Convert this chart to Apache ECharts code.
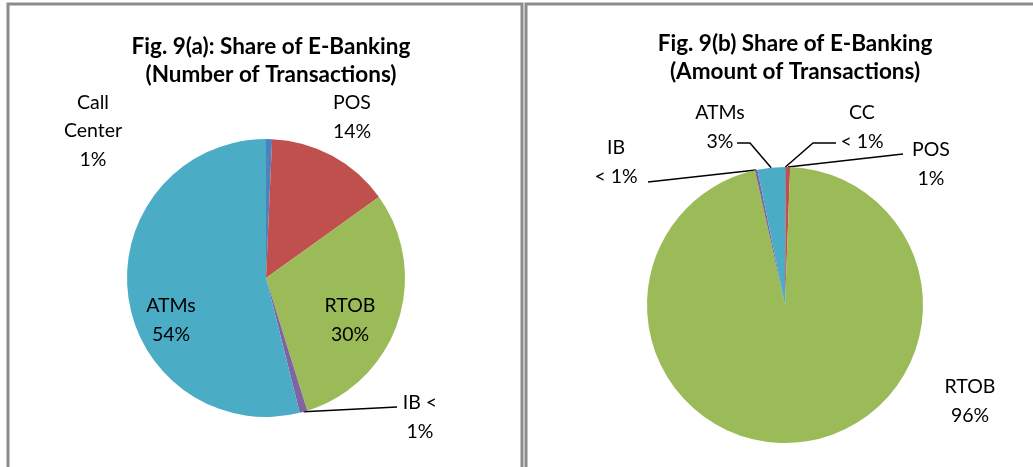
<!DOCTYPE html>
<html>
<head>
<meta charset="utf-8">
<script src="https://cdn.jsdelivr.net/npm/echarts@6/dist/echarts.min.js"></script>
<style>
  html, body { margin: 0; padding: 0; background: #fff; }
  #chart { width: 1033px; height: 467px; }
</style>
</head>
<body>
<div id="chart"></div>
<script>
// Fig. 9(a) number of transactions, Fig. 9(b) amount of transactions (%)
const channels = ["Call Center", "POS", "RTOB", "IB", "ATMs"];
const numberShare = [0.7, 14.4, 30.1, 0.9, 53.9];
const numberLabels = ["Call\nCenter\n1%", "POS\n14%", "RTOB\n30%", "IB <\n1%", "ATMs\n54%"];

const amountChannels = ["CC", "POS", "RTOB", "IB", "ATMs"];
const amountShare = [0.1, 0.5, 95.9, 0.3, 3.2];
const amountLabels = ["CC\n< 1%", "POS\n1%", "RTOB\n96%", "IB\n< 1%", "ATMs\n3%"];

const colors = ["#4F81BD", "#C0504D", "#9BBB59", "#8064A2", "#4BACC6"];

// label placement (page px) and leader line bends
const leftLabelPos = [[93, 131], [352, 117], [350, 320], [420, 417], [171, 320]];
const leftLineTo = [null, null, null, [[397, 407], [397, 407]], null];
const rightLabelPos = [[862, 127], [931, 164], [970, 401], [616, 162], [720, 127]];
const rightLineTo = [
  [[813, 143], [836, 143]],
  [[903, 154], [903, 154]],
  null,
  [[648, 182], [648, 182]],
  [[750, 143], [737, 143]],
];

const font = "Lato, 'Liberation Sans', sans-serif";

const chart = echarts.init(document.getElementById("chart"));

function makeData(names, values, lines) {
  return names.map((n, i) => ({
    name: n,
    value: values[i],
    itemStyle: { color: colors[i] },
    labelLine: { show: !!lines[i] },
  }));
}

function makeLayout(pos, lines) {
  return function (params) {
    const i = params.dataIndex;
    const out = {
      x: pos[i][0],
      y: pos[i][1],
      align: "center",
      verticalAlign: "middle",
    };
    if (lines[i] && params.labelLinePoints) {
      out.labelLinePoints = [params.labelLinePoints[0], lines[i][0], lines[i][1]];
    }
    return out;
  };
}

function pieSeries(center, radius, names, values, labels, pos, lines) {
  return {
    type: "pie",
    center: center,
    radius: radius,
    startAngle: 90,
    clockwise: true,
    silent: true,
    avoidLabelOverlap: false,
    itemStyle: { borderWidth: 0 },
    label: {
      show: true,
      position: "outside",
      formatter: (p) => labels[p.dataIndex],
      color: "#000",
      fontFamily: font,
      fontSize: 19.5,
      lineHeight: 28.5,
      align: "center",
    },
    labelLine: {
      show: true,
      lineStyle: { color: "#000", width: 1.5 },
    },
    labelLayout: makeLayout(pos, lines),
    data: makeData(names, values, lines),
  };
}

const titleStyle = { fontFamily: font, fontSize: 22.5, fontWeight: "bold", color: "#000", lineHeight: 27.5 };

const option = {
  animation: false,
  backgroundColor: "#fff",
  title: [
    {
      text: "Fig. 9(a): Share of E-Banking\n(Number of Transactions)",
      left: 266,
      top: 28,
      textAlign: "center",
      textStyle: titleStyle,
    },
    {
      text: "Fig. 9(b) Share of E-Banking\n(Amount of Transactions)",
      left: 790,
      top: 25,
      textAlign: "center",
      textStyle: titleStyle,
    },
  ],
  graphic: [
    {
      type: "rect",
      shape: { x: 8, y: 4, width: 514, height: 500 },
      style: { fill: "none", stroke: "#8c8c8c", lineWidth: 3 },
      silent: true,
    },
    {
      type: "rect",
      shape: { x: 526, y: 4, width: 540, height: 500 },
      style: { fill: "none", stroke: "#8c8c8c", lineWidth: 3 },
      silent: true,
    },
  ],
  series: [
    pieSeries([266, 278], 139, channels, numberShare, numberLabels, leftLabelPos, leftLineTo),
    pieSeries([785, 305], 138, amountChannels, amountShare, amountLabels, rightLabelPos, rightLineTo),
  ],
};

chart.setOption(option);
</script>
</body>
</html>
